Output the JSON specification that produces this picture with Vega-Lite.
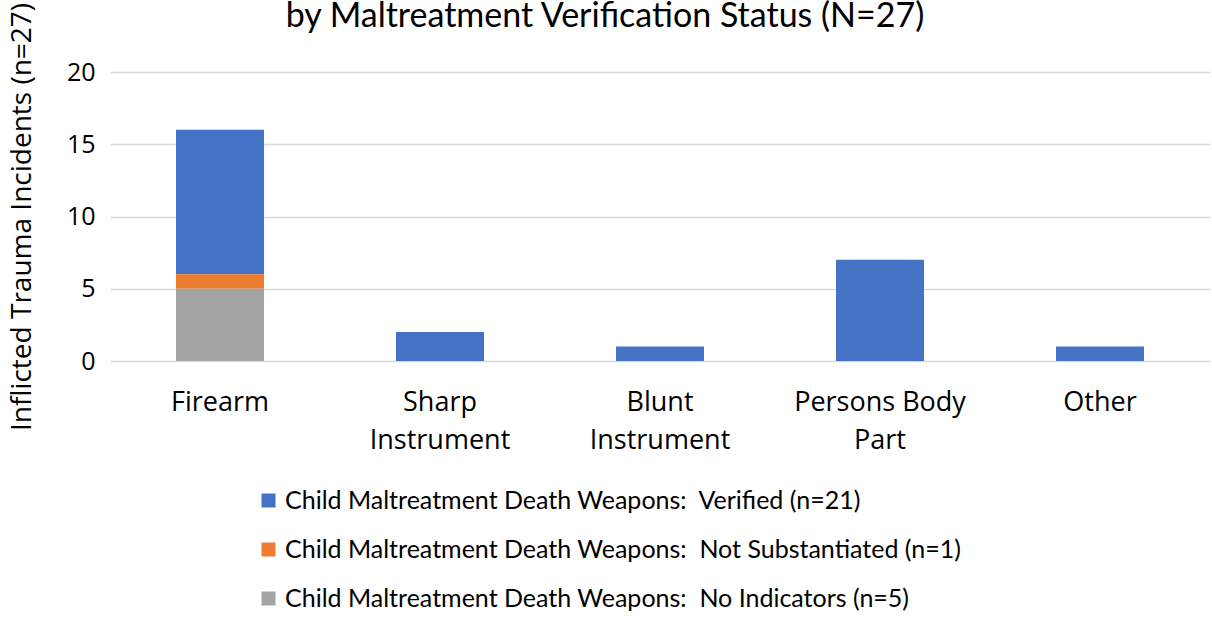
{
  "$schema": "https://vega.github.io/schema/vega-lite/v6.json",
  "width": 1100,
  "height": 289,
  "autosize": {"type": "none"},
  "padding": {"left": 110, "top": 72, "right": 2, "bottom": 256},
  "background": "white",
  "title": {
    "text": "by Maltreatment Verification Status (N=27)",
    "font": "Lato",
    "fontSize": 34,
    "fontWeight": "normal",
    "color": "#000000",
    "anchor": "middle",
    "frame": "group",
    "dx": -55,
    "offset": -32
  },
  "data": {
    "values": [
      {"weapon": "Firearm", "status": "Child Maltreatment Death Weapons: \u00a0Verified (n=21)", "count": 10},
      {"weapon": "Firearm", "status": "Child Maltreatment Death Weapons: \u00a0Not Substantiated (n=1)", "count": 1},
      {"weapon": "Firearm", "status": "Child Maltreatment Death Weapons: \u00a0No Indicators (n=5)", "count": 5},
      {"weapon": "Sharp Instrument", "status": "Child Maltreatment Death Weapons: \u00a0Verified (n=21)", "count": 2},
      {"weapon": "Blunt Instrument", "status": "Child Maltreatment Death Weapons: \u00a0Verified (n=21)", "count": 1},
      {"weapon": "Persons Body Part", "status": "Child Maltreatment Death Weapons: \u00a0Verified (n=21)", "count": 7},
      {"weapon": "Other", "status": "Child Maltreatment Death Weapons: \u00a0Verified (n=21)", "count": 1}
    ]
  },
  "mark": {"type": "bar"},
  "encoding": {
    "x": {
      "field": "weapon",
      "type": "nominal",
      "sort": ["Firearm", "Sharp Instrument", "Blunt Instrument", "Persons Body Part", "Other"],
      "scale": {"paddingInner": 0.6, "paddingOuter": 0.3},
      "axis": {
        "title": null,
        "labelAngle": 0,
        "labelFont": "Open Sans",
        "labelFontSize": 27,
        "labelColor": "#000000",
        "labelPadding": 28,
        "labelLineHeight": 38,
        "labelExpr": "datum.label == 'Persons Body Part' ? ['Persons Body', 'Part'] : split(datum.label, ' ')",
        "ticks": false,
        "domain": false
      }
    },
    "y": {
      "field": "count",
      "type": "quantitative",
      "stack": "zero",
      "scale": {"domain": [0, 20]},
      "axis": {
        "title": "Inflicted Trauma Incidents (n=27)",
        "titleFont": "Open Sans",
        "titleFontSize": 28,
        "titleFontWeight": "normal",
        "titleColor": "#000000",
        "titlePadding": 30,
        "values": [0, 5, 10, 15, 20],
        "labelFont": "Open Sans",
        "labelFontSize": 25,
        "labelColor": "#000000",
        "labelPadding": 15,
        "ticks": false,
        "domain": false,
        "grid": true,
        "gridColor": "#d9d9d9",
        "gridWidth": 1.5
      }
    },
    "color": {
      "field": "status",
      "type": "nominal",
      "sort": [
        "Child Maltreatment Death Weapons: \u00a0Verified (n=21)",
        "Child Maltreatment Death Weapons: \u00a0Not Substantiated (n=1)",
        "Child Maltreatment Death Weapons: \u00a0No Indicators (n=5)"
      ],
      "scale": {"range": ["#4472c4", "#ed7d31", "#a5a5a5"]},
      "legend": {
        "title": null,
        "orient": "none",
        "legendX": 146,
        "legendY": 416,
        "direction": "vertical",
        "symbolType": "square",
        "symbolSize": 196,
        "symbolStrokeWidth": 0,
        "labelFont": "Lato",
        "labelFontSize": 25,
        "labelColor": "#000000",
        "labelLimit": 800,
        "labelOffset": 4,
        "rowPadding": 23
      }
    },
    "order": {"field": "status", "sort": "ascending"}
  },
  "config": {"view": {"stroke": null}}
}
